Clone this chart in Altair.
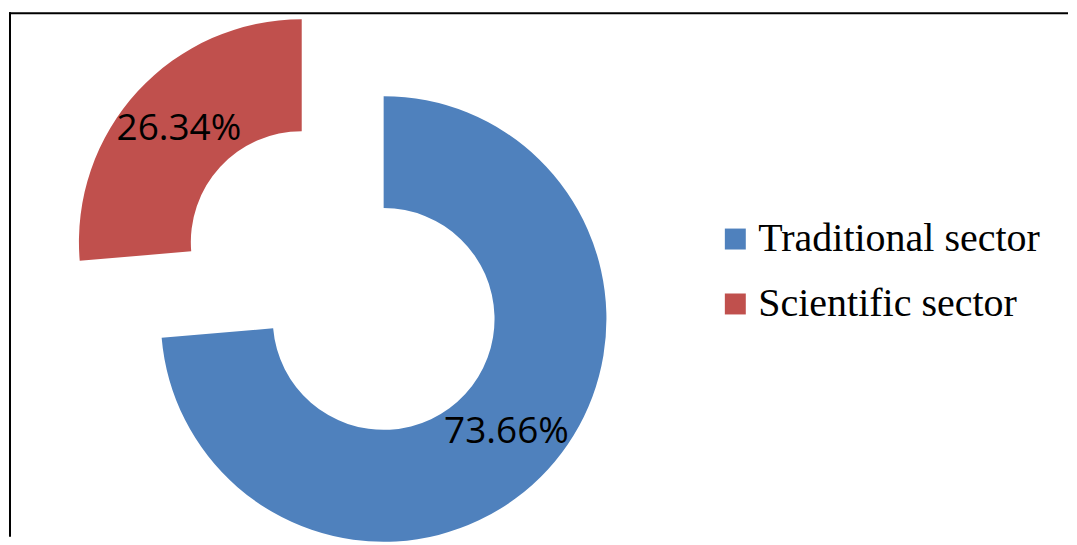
import altair as alt
import pandas as pd

categories = ["Traditional sector", "Scientific sector"]
shares = [73.66, 26.34]
labels = ["73.66%", "26.34%"]
colors = ["#4F81BD", "#C0504D"]
order = [0, 1]

df = pd.DataFrame({"category": categories, "share": shares, "label": labels, "order": order})
frame_df = pd.DataFrame({"d": [0]})

W, H = 1061, 529
CX, CY = 376, 311
EXPLODE_X, EXPLODE_Y = -82, -77

theta_scale = alt.Scale(domain=[0, 100])
color_enc = alt.Color(
    "category:N",
    scale=alt.Scale(domain=categories, range=colors),
    legend=alt.Legend(
        title=None,
        orient="none",
        legendX=708,
        legendY=211,
        symbolType="square",
        symbolSize=440,
        symbolStrokeWidth=0,
        labelFont="Liberation Serif",
        labelFontSize=40,
        labelColor="#000000",
        labelOffset=3,
        labelLimit=0,
        rowPadding=25,
    ),
)

base = alt.Chart(df).transform_window(
    cum="sum(share)", sort=[alt.SortField("order")], frame=[None, 0]
).transform_calculate(
    start="datum.cum - datum.share",
    mid="datum.cum - datum.share / 2",
)

trad = base.transform_filter(alt.datum.category == categories[0])
sci = base.transform_filter(alt.datum.category == categories[1])

arc_kw = dict(innerRadius=111, outerRadius=223, stroke=None)

blue_arc = trad.mark_arc(**arc_kw).encode(
    x=alt.value(CX), y=alt.value(CY),
    theta=alt.Theta("start:Q", scale=theta_scale),
    theta2="cum:Q",
    color=color_enc,
)
red_arc = sci.mark_arc(xOffset=EXPLODE_X, yOffset=EXPLODE_Y, **arc_kw).encode(
    x=alt.value(CX), y=alt.value(CY),
    theta=alt.Theta("start:Q", scale=theta_scale),
    theta2="cum:Q",
    color=color_enc,
)

text_kw = dict(radius=167, font="Open Sans", fontSize=37, color="#000000",
               align="center", baseline="middle")
blue_txt = trad.mark_text(**text_kw).encode(
    x=alt.value(CX), y=alt.value(CY),
    theta=alt.Theta("mid:Q", scale=theta_scale),
    text="label:N",
)
red_txt = sci.mark_text(xOffset=EXPLODE_X, yOffset=EXPLODE_Y, **text_kw).encode(
    x=alt.value(CX), y=alt.value(CY),
    theta=alt.Theta("mid:Q", scale=theta_scale),
    text="label:N",
)

frame_top = alt.Chart(frame_df).mark_rule(color="#000000", strokeWidth=2).encode(
    x=alt.value(1), x2=alt.value(W), y=alt.value(5)
)
frame_left = alt.Chart(frame_df).mark_rule(color="#000000", strokeWidth=2).encode(
    x=alt.value(2), y=alt.value(4), y2=alt.value(H)
)

chart = alt.layer(
    frame_top, frame_left, blue_arc, red_arc, blue_txt, red_txt
).properties(
    width=W, height=H, padding=0
).configure_view(stroke=None)

chart.save("out.html", embed_options={"renderer": "svg", "actions": False})
